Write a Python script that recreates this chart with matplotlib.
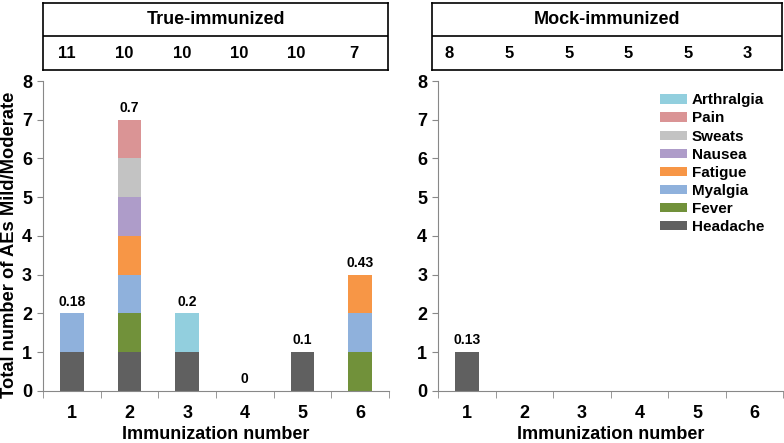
import matplotlib.pyplot as plt
import numpy as np

plt.rcParams['font.family'] = ['Liberation Sans', 'DejaVu Sans']
plt.rcParams['font.weight'] = 'bold'

immunization = [1, 2, 3, 4, 5, 6]
symptoms = ['Headache', 'Fever', 'Myalgia', 'Fatigue', 'Nausea', 'Sweats', 'Pain', 'Arthralgia']
colors = ['#606060', '#71913a', '#8fb1dc', '#f79646', '#ae9cc9', '#c3c3c3', '#da9495', '#92cfde']

# counts per symptom for each immunization (stacked in the order of symptoms)
true_counts = {
    'Headache':   [1, 1, 1, 0, 1, 0],
    'Fever':      [0, 1, 0, 0, 0, 1],
    'Myalgia':    [1, 1, 0, 0, 0, 1],
    'Fatigue':    [0, 1, 0, 0, 0, 1],
    'Nausea':     [0, 1, 0, 0, 0, 0],
    'Sweats':     [0, 1, 0, 0, 0, 0],
    'Pain':       [0, 1, 0, 0, 0, 0],
    'Arthralgia': [0, 0, 1, 0, 0, 0],
}
mock_counts = {
    'Headache':   [1, 0, 0, 0, 0, 0],
    'Fever':      [0, 0, 0, 0, 0, 0],
    'Myalgia':    [0, 0, 0, 0, 0, 0],
    'Fatigue':    [0, 0, 0, 0, 0, 0],
    'Nausea':     [0, 0, 0, 0, 0, 0],
    'Sweats':     [0, 0, 0, 0, 0, 0],
    'Pain':       [0, 0, 0, 0, 0, 0],
    'Arthralgia': [0, 0, 0, 0, 0, 0],
}
true_rates = ['0.18', '0.7', '0.2', '0', '0.1', '0.43']
mock_rates = ['0.13', '', '', '', '', '']
true_n = ['11', '10', '10', '10', '10', '7']
mock_n = ['8', '5', '5', '5', '5', '3']

fig = plt.figure(figsize=(7.84, 4.43), dpi=100)

ax1 = fig.add_axes([0.055, 0.118, 0.441, 0.699])
ax2 = fig.add_axes([0.559, 0.118, 0.44, 0.699])

def draw_panel(ax, counts, rates):
    x = np.arange(len(immunization))
    bottom = np.zeros(len(immunization))
    for name, col in zip(symptoms, colors):
        vals = np.array(counts[name])
        ax.bar(x, vals, 0.41, bottom=bottom, color=col, label=name, linewidth=0)
        bottom += vals
    for xi, top, r in zip(x, bottom, rates):
        ax.text(xi, top + 0.12, r, ha='center', va='bottom', fontsize=10, fontweight='bold')
    ax.set_xlim(-0.5, len(immunization) - 0.5)
    ax.set_ylim(0, 8)
    ax.set_yticks(range(0, 9))
    ax.set_xticks(x)
    ax.set_xticklabels([str(i) for i in immunization])
    ax.set_xticks(np.arange(-0.5, len(immunization)), minor=True)
    ax.tick_params(axis='x', which='major', length=0, pad=10, labelsize=13)
    ax.tick_params(axis='x', which='minor', length=5, color='#888888')
    ax.tick_params(axis='y', length=4, color='#888888', labelsize=13, pad=4)
    for s in ['top', 'right']:
        ax.spines[s].set_visible(False)
    for s in ['left', 'bottom']:
        ax.spines[s].set_color('#888888')
    ax.set_xlabel('Immunization number', fontsize=13, fontweight='bold', labelpad=3)

draw_panel(ax1, true_counts, true_rates)
draw_panel(ax2, mock_counts, mock_rates)
ax1.set_ylabel('Total number of AEs Mild/Moderate', fontsize=13.2, fontweight='bold')
ax1.yaxis.set_label_coords(-0.072, 0.47)

handles, labels = ax2.get_legend_handles_labels()
ax2.legend(handles[::-1], labels[::-1], loc='upper right', bbox_to_anchor=(0.972, 0.99),
           frameon=False, fontsize=11, handlelength=1.8, handleheight=0.55,
           labelspacing=0.27, handletextpad=0.3, borderaxespad=0.2)

# header boxes above each panel
def header(rect, title, nums, pos):
    hx = fig.add_axes(rect)
    hx.set_xticks([])
    hx.set_yticks([])
    for s in hx.spines.values():
        s.set_linewidth(1.2)
    hx.set_xlim(0, 1)
    hx.set_ylim(0, 1)
    hx.axhline(0.5, color='black', linewidth=1.2)
    hx.text(0.5, 0.75, title, ha='center', va='center', fontsize=13, fontweight='bold')
    for px, n in zip(pos, nums):
        hx.text(px, 0.25, n, ha='center', va='center', fontsize=12, fontweight='bold')

header([0.055, 0.842, 0.44, 0.152], 'True-immunized', true_n, np.linspace(0.07, 0.9, 6))
header([0.551, 0.842, 0.447, 0.152], 'Mock-immunized', mock_n, np.linspace(0.05, 0.9, 6))

fig.savefig('out.png', dpi=100)
